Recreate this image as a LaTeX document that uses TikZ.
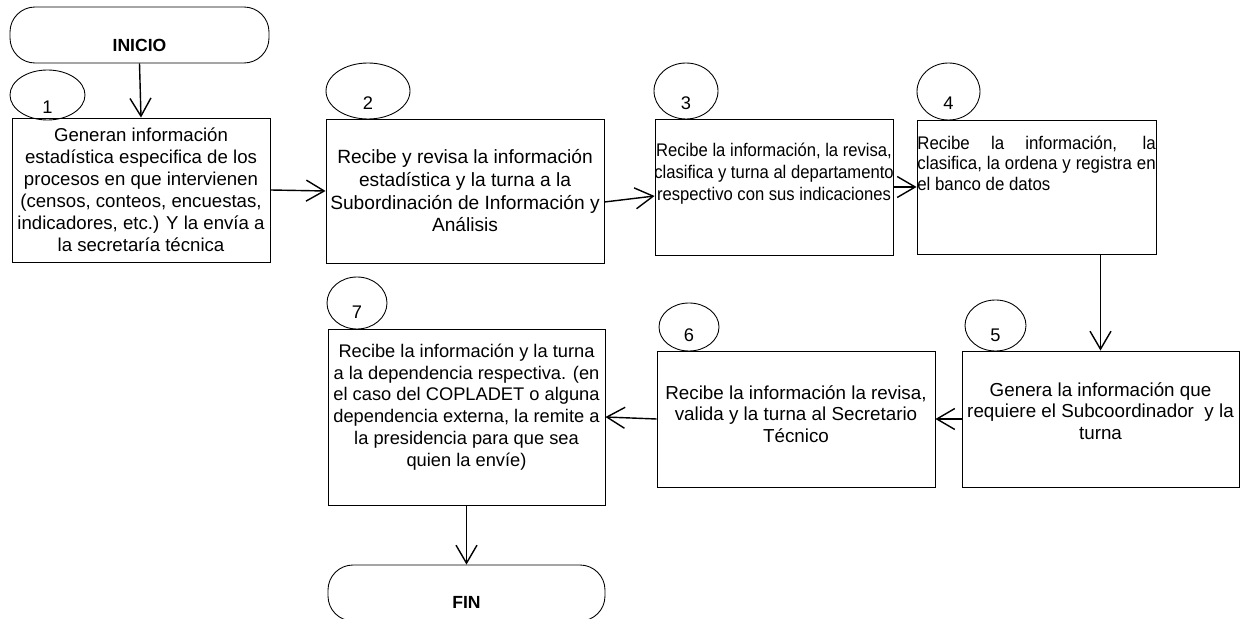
\documentclass[tikz,border=0pt]{standalone}
\usepackage{fontspec}
\setmainfont{Liberation Sans}
\usetikzlibrary{arrows.meta,positioning,shapes.geometric}

\begin{document}
\begin{tikzpicture}[
  font=\fontsize{10.4}{12.4}\selectfont,
  stepbox/.style={draw, line width=0.5pt, inner sep=0pt},
  term/.style={draw, line width=0.5pt, rounded corners=0.5cm,
    minimum height=1.12cm, inner sep=0pt},
  num/.style={draw, ellipse, line width=0.5pt, inner sep=0pt},
  txt/.style={align=center, inner sep=0pt},
  arr/.style={-{Straight Barb[length=0.36cm,width=0.42cm]}, line width=0.8pt}
]
  \useasboundingbox (0,0) rectangle (24.96,12.38);

  % inicio y fin
  \node[term, minimum width=5.18cm] (ini) at (2.79, 11.68) {};
  \node[txt, font=\bfseries] (tini) at ([yshift=-0.2cm]ini.center) {INICIO};
  \node[term, minimum width=5.54cm] (fin) at (9.33, 0.52) {};
  \node[txt, font=\bfseries] (tfin) at ([yshift=-0.18cm]fin.center) {FIN};

  % pasos
  \node[stepbox, minimum width=5.16cm, minimum height=2.88cm] (b1) at (2.82, 8.58) {};
  \node[stepbox, minimum width=5.56cm, minimum height=2.88cm] (b2) at (9.30, 8.56) {};
  \node[stepbox, minimum width=4.76cm, minimum height=2.72cm] (b3) at (15.48, 8.64) {};
  \node[stepbox, minimum width=4.78cm, minimum height=2.68cm] (b4) at (20.73, 8.64) {};
  \node[stepbox, minimum width=5.54cm, minimum height=2.72cm] (b5) at (22.01, 4.00) {};
  \node[stepbox, minimum width=5.56cm, minimum height=2.72cm] (b6) at (15.92, 4.00) {};
  \node[stepbox, minimum width=5.54cm, minimum height=3.52cm] (b7) at (9.33, 4.04) {};

  \node[txt, font=\fontsize{10.6}{12.5}\selectfont] (t1) at (b1.center)
    {Generan información\\ estadística especifica de los\\ procesos en que intervienen\\
     (censos, conteos, encuestas,\\ indicadores, etc.) Y la envía a\\ la secretaría técnica};
  \node[txt, font=\fontsize{10.9}{12.9}\selectfont] (t2) at (b2.center)
    {Recibe y revisa la información\\ estadística y la turna a la\\
     Subordinación de Información y\\ Análisis};
  \node[txt] (t3) at ([yshift=0.27cm]b3.center)
    {\scalebox{0.91}[1]{\parbox{5.4cm}{\centering Recibe la información, la revisa,\\
     clasifica y turna al departamento\\ respectivo con sus indicaciones}}};
  \node[txt, font=\fontsize{10.4}{11.6}\selectfont] (t4) at ([yshift=0.48cm]b4.center)
    {\scalebox{0.922}[1]{\parbox{5.17cm}{\hyphenpenalty=10000
     Recibe la información, la\linebreak clasifica, la ordena y registra en\linebreak
     el banco de datos}}};
  \node[txt, font=\fontsize{10.7}{12.4}\selectfont] (t5) at ([yshift=0.16cm]b5.center)
    {Genera la información que\\ requiere el Subcoordinador\ \ y la\\ turna};
  \node[txt, font=\fontsize{10.7}{12.4}\selectfont] (t6) at ([yshift=0.1cm]b6.center)
    {Recibe la información la revisa,\\ valida y la turna al Secretario\\ Técnico};
  \node[txt] (t7) at ([yshift=0.2cm]b7.center)
    {Recibe la información y la turna\\ a la dependencia respectiva. (en\\
     el caso del COPLADET o alguna\\ dependencia externa, la remite a\\
     la presidencia para que sea\\ quien la envíe)};

  % numeros
  \node[num, minimum width=1.50cm, minimum height=1.00cm,
    label={[yshift=-0.24cm]center:1}] (e1) at (0.95, 10.48) {};
  \node[num, minimum width=1.68cm, minimum height=1.12cm,
    label={[yshift=-0.24cm]center:2}] (e2) at (7.36, 10.56) {};
  \node[num, minimum width=1.28cm, minimum height=1.12cm,
    label={[yshift=-0.24cm]center:3}] (e3) at (13.72, 10.56) {};
  \node[num, minimum width=1.26cm, minimum height=1.14cm,
    label={[yshift=-0.24cm]center:4}] (e4) at (18.97, 10.55) {};
  \node[num, minimum width=1.22cm, minimum height=1.02cm,
    label={[yshift=-0.19cm]center:5}] (e5) at (19.91, 5.87) {};
  \node[num, minimum width=1.20cm, minimum height=0.96cm,
    label={[yshift=-0.16cm]center:6}] (e6) at (13.78, 5.84) {};
  \node[num, minimum width=1.20cm, minimum height=1.04cm,
    label={[yshift=-0.18cm]center:7}] (e7) at (7.14, 6.32) {};

  % flechas
  \draw[arr] (ini.south) -- (b1.north);
  \draw[arr] (b1.east) -- (b2.west);
  \draw[arr] ([yshift=-0.22cm]b2.east) -- ([yshift=-0.18cm]b3.west);
  \draw[arr] (b3.east) -- (b4.west);
  \draw[arr] (b5.north |- b4.south) -- (b5.north);
  \draw[arr] (b5.west) -- (b6.east);
  \draw[arr] (b6.west) -- (b7.east);
  \draw[arr] (b7.south) -- (fin.north);
\end{tikzpicture}
\end{document}
